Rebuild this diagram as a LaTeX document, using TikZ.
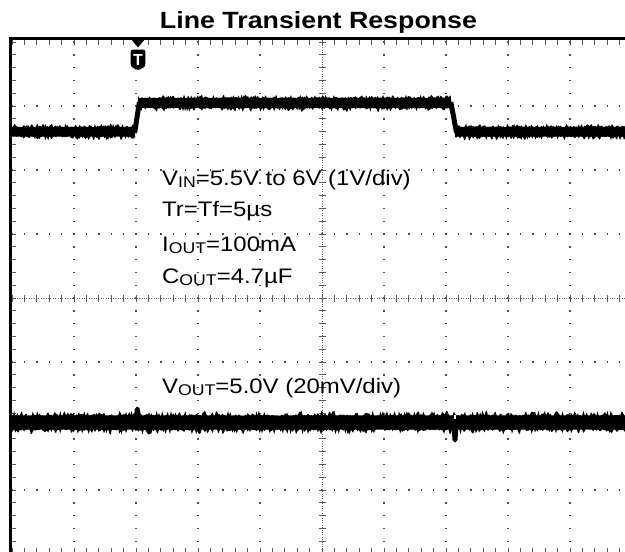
\documentclass[tikz,border=0pt]{standalone}
\usepackage{fontspec}
\setmainfont{Liberation Sans}
\newfontfamily\lblfont[FakeStretch=1.14]{Liberation Sans}
\newfontfamily\ttlfont[FakeStretch=1.14]{Liberation Sans}
\newcommand{\lsub}[1]{\raisebox{-2.8pt}{\fontsize{15.5}{16}\selectfont #1}}
\tikzset{
  gdot/.style={fill=black!70},
  tick/.style={draw=black!65, line width=0.9pt},
  fineline/.style={draw=black!60, line width=0.6pt, dash pattern=on 0.8pt off 1.6pt},
  lbl/.style={anchor=base west, inner sep=0pt, font=\lblfont\fontsize{21}{24}\selectfont},
  trace/.style={fill=black},
}
\begin{document}
\begin{tikzpicture}[x=1pt,y=-1pt]
\useasboundingbox (0,0) rectangle (625,552);
\pgfmathsetseed{7}
% ---------- graticule ----------
\begin{scope}
\clip (0,0) rectangle (625,552);
\foreach \i in {1,2,3,4,6,7,8,9}{
  \foreach \j in {0,...,40}{
    \fill[gdot] ({12+62*\i-0.7},{42+12.8*\j-0.7}) rectangle +(1.4,1.4);
  }
}
\foreach \j in {1,2,3,5,6,7}{
  \foreach \k in {0,...,50}{
    \fill[gdot] ({12+12.4*\k-0.7},{42+64*\j-0.7}) rectangle +(1.4,1.4);
  }
}
\draw[fineline] (322,40) -- (322,554);
\draw[fineline] (12,298) -- (632,298);
\foreach \j in {0,...,40}{
  \draw[tick] (318.5,{42+12.8*\j}) -- (325.5,{42+12.8*\j});
}
\foreach \k in {0,...,50}{
  \draw[tick] ({12+12.4*\k},294.5) -- ({12+12.4*\k},301.5);
}
\foreach \k in {0,...,50}{
  \draw[tick] ({12+12.4*\k},40) -- ({12+12.4*\k},45);
  \draw[tick] ({12+12.4*\k},548) -- ({12+12.4*\k},552);
}
\foreach \j in {0,...,40}{
  \draw[tick] (12,{42+12.8*\j}) -- (16,{42+12.8*\j});
}
\end{scope}
\draw[line width=3pt] (10,552) -- (10,38) -- (625,38);
% ---------- VIN trace ----------
\fill[trace] plot[domain=12:135, samples=130] (\x,{127-3.4*rnd^3}) -- plot[domain=135:12, samples=130] (\x,{136.5+4*rnd^3}) -- cycle;
\draw[line width=5pt] (134.6,133) -- (139.4,102);
\fill[trace] plot[domain=138:451, samples=300] (\x,{98-3.4*rnd^3}) -- plot[domain=451:138, samples=300] (\x,{107.8+4*rnd^3}) -- cycle;
\draw[line width=5pt] (450.8,102) -- (456.6,133);
\fill[trace] plot[domain=455:625, samples=170] (\x,{127-3.4*rnd^3}) -- plot[domain=625:455, samples=170] (\x,{136.5+4*rnd^3}) -- cycle;
% ---------- VOUT trace ----------
\fill[trace] plot[domain=12:625, samples=560] (\x,{415.5-5*rnd^3}) -- plot[domain=625:12, samples=560] (\x,{429.5+5*rnd^3}) -- cycle;
\fill[trace] (133.5,418) -- (135,409) -- (137,406.5) -- (139.5,408) -- (141.5,418) -- cycle;
\fill[white] (136,430.5) rectangle (138,434);
\fill[trace] (451.5,426) -- (452.5,440) -- (455,442.5) -- (457.5,440) -- (458.5,426) -- cycle;
\fill[white] (454,415) rectangle (456,419);
% ---------- trigger marker ----------
\fill (131,39) -- (145,39) -- (138,47.5) -- cycle;
\fill[rounded corners=2.5pt] (138,70.5) -- (130.6,66.5) -- (130.6,49.5) -- (145.4,49.5) -- (145.4,66.5) -- cycle;
\node[text=white, inner sep=0pt, font=\bfseries\fontsize{16}{16}\selectfont] (trigT) at (138,59.5) {T};
% ---------- texts ----------
\node[anchor=base, inner sep=0pt, font=\ttlfont\bfseries\fontsize{23.5}{26}\selectfont] (title) at (318.5,28) {Line Transient Response};
\node[lbl] (vin) at (162,185) {V\lsub{IN}=5.5V to 6V (1V/div)};
\node[lbl] (trtf) at (162,216) {Tr=Tf=5µs};
\node[lbl] (iout) at (162,251) {I\lsub{OUT}=100mA};
\node[lbl] (cout) at (162,283) {C\lsub{OUT}=4.7µF};
\node[lbl] (vout) at (162,393) {V\lsub{OUT}=5.0V (20mV/div)};
\end{tikzpicture}
\end{document}
